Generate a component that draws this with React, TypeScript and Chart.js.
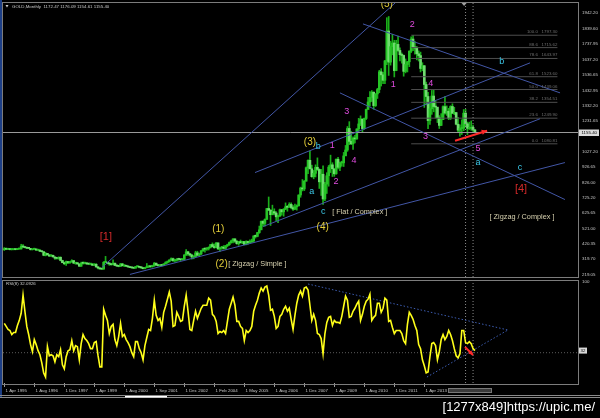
import React, { useEffect, useRef } from "react";
import { Chart, registerables } from "chart.js";
Chart.register(...registerables);

const FONT = "'Liberation Sans', Arial, sans-serif";

// ---- monthly GOLD bars (bar index 0 = 1 Apr 1995) ----
const closes = [
  389,385,387,383,383,384,383,387,387,
  405,400,396,392,391,382,385,387,379,379,371,369,
  345,358,348,340,345,334,326,325,332,311,296,290,
  304,297,301,310,293,296,288,273,293,292,294,288,
  287,287,279,286,268,261,255,254,299,299,292,288,
  283,293,278,274,272,288,276,
  277,273,268,264,262,260,270,271,266,263,257,264,268,272,270,276,
  293,281,277,279,278,288,297,303,314,323,310,312,320,318,316,318,
  347,368,355,347,334,336,361,346,354,375,388,386,391,398,416,403,396,427,388,395,395,391,408,415,429,440,453,438,422,435,428,436,417,
  437,429,433,440,473,470,495,513,569,556,582,654,643,613,633,624,
  599,604,646,632,650,665,662,681,660,650,665,672,743,789,783,834,
  923,972,916,864,886,926,912,830,880,717,815,870,
  927,942,916,883,979,926,955,955,1001,1040,1182,1097,
  1081,1118,1113,1179,1212,1244,1181,1248,1307,1357,1387,1421,
  1333,1410,1439,1556,1536,1500,1628,1825,1620,1722,1746,1564,
  1737,1697,1669,1664,1559,1604,1622,1692,1772,1720,1712,1675,
  1663,1578,1596,1472,1393,1234,1312,1396,1327,1323,1253,1202,
  1240,1326,1284,1296,1250,1327,1282,1287,1210,1171,1182,1184,
  1283,1213,1183,1183,1190,1172,1155.4,
];
const highs = [
  396,393,390,389,388,386,386,389,390,
  418,416,403,397,395,391,387,392,387,385,383,373,
  369,365,355,349,350,346,335,331,335,335,313,300,
  307,306,303,316,311,298,298,290,300,302,300,297,
  293,292,291,291,290,272,263,258,304,338,300,296,
  292,316,294,283,278,292,292,
  282,278,275,270,268,265,272,275,273,268,265,266,291,277,275,280,
  298,294,284,281,283,290,303,308,316,328,327,318,324,326,320,322,
  350,383,372,358,352,342,372,372,360,377,390,392,396,401,417,427,420,429,428,396,404,409,410,419,433,445,456,456,443,437,446,438,436,
  441,439,447,452,474,479,497,538,572,574,586,655,730,646,676,652,
  633,611,650,648,653,691,673,692,691,673,683,678,744,795,845,839,
  928,975,1033,940,905,942,988,916,912,935,827,890,
  938,1006,956,915,981,991,960,966,1024,1070,1195,1227,
  1162,1127,1136,1180,1249,1265,1245,1251,1310,1388,1425,1432,
  1424,1412,1447,1566,1577,1553,1632,1913,1921,1758,1803,1764,
  1764,1791,1714,1680,1667,1641,1625,1695,1787,1796,1755,1723,
  1694,1686,1616,1598,1488,1420,1348,1433,1434,1361,1320,1267,
  1280,1332,1392,1331,1315,1332,1345,1322,1288,1255,1206,1239,
  1307,1308,1224,1224,1232,1205,1176.09,
];
const lows = [
  377,382,383,381,380,381,381,382,385,
  386,396,394,389,389,380,380,384,378,377,370,366,
  342,341,346,337,339,334,318,320,319,308,296,283,
  278,290,292,300,291,286,286,272,273,286,288,285,
  283,282,278,278,267,256,253,252,253,296,288,279,
  280,281,277,272,269,272,275,
  270,270,266,263,260,258,260,267,262,258,255,255,263,264,265,267,
  272,277,273,272,274,276,287,292,300,310,304,300,306,312,310,313,
  317,344,345,340,320,322,335,342,340,350,370,366,378,380,393,399,391,395,382,371,385,386,385,401,410,425,426,430,418,411,425,422,414,
  414,418,425,430,432,459,467,490,514,538,537,582,640,542,612,612,
  573,560,602,610,603,646,636,662,652,642,646,643,670,728,770,772,
  835,883,915,860,850,862,905,786,740,681,705,753,
  801,891,865,866,880,915,904,933,931,1003,1031,1075,
  1075,1044,1087,1111,1164,1201,1157,1176,1241,1313,1330,1360,
  1309,1327,1380,1418,1462,1477,1478,1603,1532,1600,1668,1522,
  1563,1690,1628,1613,1527,1549,1555,1590,1683,1695,1672,1635,
  1627,1555,1563,1321,1338,1180,1208,1275,1292,1251,1221,1182,
  1202,1240,1277,1268,1240,1241,1282,1273,1206,1161,1131,1142,
  1167,1191,1142,1175,1170,1162,1154.61,
];
const firstOpen = 382;
const lastOpen = 1172.47;

// ---- RSI(8) ----
const rsi = [
  59,56,53,52,48,50,50,57,62,69,
  87,71,56,48,38,31,43,38,32,28,
  20,10,6,36,27,28,27,21,28,26,
  33,18,14,26,32,33,42,32,37,36,
  23,39,48,44,42,39,34,34,40,41,
  27,16,16,73,67,62,49,56,58,43,
  37,46,59,46,48,43,40,36,30,26,
  41,41,34,30,23,37,45,53,52,64,
  82,67,62,64,55,70,76,83,90,81,
  56,57,70,66,61,62,76,87,71,53,
  52,62,71,64,69,74,77,77,77,84,
  82,68,66,61,49,51,50,52,49,61,
  73,79,85,77,61,61,56,54,42,52,
  50,52,56,71,77,82,89,94,91,95,
  96,87,72,73,66,54,56,66,68,73,
  76,71,74,63,53,67,79,87,91,86,
  94,95,92,77,62,68,62,49,48,44,
  29,49,60,65,66,57,62,60,60,59,
  66,76,86,82,65,66,71,74,78,81,
  62,68,76,81,83,88,62,65,67,79,
  79,70,74,84,82,61,62,55,49,52,
  52,52,49,42,39,58,70,67,63,57,
  52,38,34,23,17,10,11,26,39,40,
  37,23,31,43,48,43,46,52,48,42,
  34,27,25,29,52,52,40,39,41,39,
  34,32.0926,
];

// ---- axes ----
const dateTickBars = [0,16,32,48,64,80,96,112,128,144,160,176,192,208,224];
const dateTickLabels = ["1 Apr 1995","1 Aug 1996","1 Dec 1997","1 Apr 1999","1 Aug 2000","1 Sep 2001","1 Dec 2002","1 Feb 2004","1 May 2005","1 Aug 2006","1 Dec 2007","1 Apr 2009","1 Aug 2010","1 Dec 2011","1 Apr 2013"];
const priceTicks = [219.05,319.70,420.35,521.00,625.65,725.20,826.00,926.65,1027.20,1231.65,1332.20,1432.95,1536.65,1637.20,1737.95,1839.60,1942.20];
const rsiTicks = [100];
const XMIN = -0.693, XMAX = 305.97;
const YMIN = 201.9, YMAX = 2010;

// ---- annotations (bar index, price) ----
const trendLines: number[][] = [
  [52.1, 265, 208.4, 2010],
  [67.0, 219, 299.0, 957],
  [138.0, 535, 285.7, 1246],
  [133.7, 891, 280.4, 1615],
  [191.3, 1872, 296.4, 1417],
  [179.0, 1417, 299.0, 713],
];
const waveLabels: [string, number, number, string, number][] = [
  ["[1]", 54.2, 463, "#d42a2a", 11],
  ["(1)", 114.1, 515, "#e5cf3a", 10],
  ["(2)", 115.9, 285, "#e5cf3a", 10],
  ["[ Zigzag / Simple ]", 135.0, 285, "#d8d2b0", 7.3],
  ["(3)", 163.0, 1090, "#e5cf3a", 10],
  ["b", 167.5, 1064, "#3cc8e8", 9],
  ["1", 174.9, 1070, "#e04ce0", 9],
  ["a", 164.0, 768, "#3cc8e8", 9],
  ["2", 176.9, 833, "#e04ce0", 9],
  ["4", 186.5, 970, "#e04ce0", 9],
  ["3", 182.6, 1294, "#e04ce0", 9],
  ["c", 170.1, 632, "#3cc8e8", 9],
  ["[ Flat / Complex ]", 189.6, 634, "#d8d2b0", 7.3],
  ["(4)", 169.8, 530, "#e5cf3a", 10],
  ["(5)", 204.0, 2004, "#e5cf3a", 10],
  ["1", 207.5, 1470, "#e04ce0", 9],
  ["2", 217.6, 1865, "#e04ce0", 9],
  ["4", 227.4, 1481, "#e04ce0", 9],
  ["3", 224.7, 1130, "#e04ce0", 9],
  ["5", 252.6, 1049, "#e04ce0", 9],
  ["a", 252.6, 956, "#3cc8e8", 9],
  ["b", 265.3, 1624, "#3cc8e8", 9],
  ["c", 275.0, 924, "#3cc8e8", 9],
  ["[4]", 275.6, 785, "#d42a2a", 11],
  ["[ Zigzag / Complex ]", 276.1, 601, "#d8d2b0", 7.3],
];
const fibLevels = [100.0, 88.6, 78.6, 61.8, 50.0, 38.2, 23.6, 0.0];
const fibPrices = [1797.30, 1715.62, 1643.97, 1523.60, 1439.06, 1354.51, 1249.90, 1080.81];
const fibFrom = 217, fibTo = 295;
const vLines = [246, 250];
const bidPrice = 1155.40;
const priceArrow = [240.4, 1101, 257.5, 1167];
const rsiTriangle: number[][] = [
  [162, 98, 268.6, 52.5],
  [225.4, 5.9, 268.6, 52.5],
];
const rsiArrow = [245.7, 35.6, 250, 27.7];
const rsiLevel = 30;
const headerText = "GOLD,Monthly  1172.47 1176.09 1154.61 1155.40";
const rsiText = "RSI(8) 32.0926";
const watermark = "[1277x849]https://upic.me/";

const LINE_BLUE = "#4256a6";

function seg(pts: { x: number; y: number }[], color: string, width = 1, dash: number[] = [], order = 1) {
  return {
    type: "line" as const,
    data: pts,
    borderColor: color,
    borderWidth: width,
    borderDash: dash,
    pointRadius: 0,
    fill: false,
    tension: 0,
    order,
  };
}

function arrowHead(ctx: CanvasRenderingContext2D, x1: number, y1: number, x2: number, y2: number, color: string, size: number) {
  const ang = Math.atan2(y2 - y1, x2 - x1);
  ctx.fillStyle = color;
  ctx.beginPath();
  ctx.moveTo(x2, y2);
  ctx.lineTo(x2 - size * Math.cos(ang - 0.45), y2 - size * Math.sin(ang - 0.45));
  ctx.lineTo(x2 - size * Math.cos(ang + 0.45), y2 - size * Math.sin(ang + 0.45));
  ctx.closePath();
  ctx.fill();
}

const zeroPad = (s: any) => {
  s.paddingTop = 0; s.paddingBottom = 0; s.paddingLeft = 0; s.paddingRight = 0;
};

export default function App() {
  const mainRef = useRef<HTMLCanvasElement>(null);
  const rsiRef = useRef<HTMLCanvasElement>(null);

  useEffect(() => {
    document.body.style.margin = "0";
    document.body.style.background = "#000";
    const opens = closes.map((c, i) => (i === 0 ? firstOpen : i === closes.length - 1 ? lastOpen : closes[i - 1]));

    const mainDeco = {
      id: "mainDeco",
      afterDraw(chart: any) {
        const { ctx, chartArea: a, scales } = chart;
        const xs = scales.x, ys = scales.y;
        ctx.save();
        ctx.fillStyle = "#1d3f86";
        ctx.fillRect(0, 0, 2, 280);
        ctx.strokeStyle = "#7c7c7c";
        ctx.lineWidth = 1;
        ctx.strokeRect(a.left - 0.5, a.top - 0.5, a.right - a.left + 1, a.bottom - a.top + 1);
        ctx.save();
        ctx.beginPath();
        ctx.rect(a.left, a.top, a.right - a.left, a.bottom - a.top);
        ctx.clip();
        ctx.textAlign = "center";
        ctx.textBaseline = "middle";
        waveLabels.forEach(([t, i, p, c, s]) => {
          ctx.font = `${s}px ${FONT}`;
          ctx.fillStyle = c;
          ctx.fillText(t, xs.getPixelForValue(i), ys.getPixelForValue(p));
        });
        ctx.font = `4.4px ${FONT}`;
        ctx.fillStyle = "#6e6e6e";
        ctx.textAlign = "right";
        ctx.textBaseline = "bottom";
        fibLevels.forEach((lv, k) => {
          ctx.fillText(`${lv.toFixed(1)}   ${fibPrices[k].toFixed(2)}`, xs.getPixelForValue(fibTo), ys.getPixelForValue(fibPrices[k]) - 1);
        });
        arrowHead(ctx, xs.getPixelForValue(priceArrow[0]), ys.getPixelForValue(priceArrow[1]), xs.getPixelForValue(priceArrow[2]), ys.getPixelForValue(priceArrow[3]), "#ff2a2a", 6);
        ctx.restore();
        // chart-shift marker
        const sx = xs.getPixelForValue(vLines[1]) - 9;
        ctx.fillStyle = "#a0a0a0";
        ctx.beginPath();
        ctx.moveTo(sx - 2.5, a.top);
        ctx.lineTo(sx + 2.5, a.top);
        ctx.lineTo(sx, a.top + 3);
        ctx.closePath();
        ctx.fill();
        // bid price box
        const py = ys.getPixelForValue(bidPrice);
        ctx.fillStyle = "#dcdcdc";
        ctx.fillRect(a.right + 1, py - 3, 20, 6.5);
        ctx.fillStyle = "#000";
        ctx.font = `4.4px ${FONT}`;
        ctx.textAlign = "left";
        ctx.textBaseline = "middle";
        ctx.fillText(bidPrice.toFixed(2), a.right + 3.5, py + 0.3);
        // header
        ctx.fillStyle = "#d0d0d0";
        ctx.beginPath();
        ctx.moveTo(5.5, 5);
        ctx.lineTo(8.5, 5);
        ctx.lineTo(7, 7.5);
        ctx.closePath();
        ctx.fill();
        ctx.font = `4.4px ${FONT}`;
        ctx.fillStyle = "#c8c8c8";
        ctx.fillText(headerText, 12, 7);
        ctx.restore();
      },
    };

    const bodyColors = closes.map((c, i) => (c >= opens[i] ? "#26c426" : "#6fdc6f"));

    const main = new Chart(mainRef.current!, {
      type: "bar",
      data: {
        datasets: [
          ...trendLines.map(([i1, p1, i2, p2]) => seg([{ x: i1, y: p1 }, { x: i2, y: p2 }], LINE_BLUE)),
          ...fibPrices.map((p) => seg([{ x: fibFrom, y: p }, { x: fibTo, y: p }], "#4e4e4e", 1, [], 3)),
          seg([{ x: XMIN, y: bidPrice }, { x: XMAX, y: bidPrice }], "#9a9a9a", 1, [], 2),
          ...vLines.map((v) => seg([{ x: v, y: YMIN }, { x: v, y: YMAX }], "#8a8a8a", 1, [1, 2], 2)),
          seg([{ x: priceArrow[0], y: priceArrow[1] }, { x: priceArrow[2], y: priceArrow[3] }], "#ff2a2a", 2, [], 0),
          {
            type: "bar" as const,
            data: closes.map((c, i) => ({ x: i, y: [lows[i], highs[i]] })),
            backgroundColor: "#1aae1a",
            barThickness: 1,
            order: 10,
          },
          {
            type: "bar" as const,
            data: closes.map((c, i) => ({ x: i, y: [opens[i], c] })),
            backgroundColor: bodyColors,
            barThickness: 2,
            minBarLength: 1,
            order: 9,
          },
        ] as any,
      },
      options: {
        animation: false,
        responsive: false,
        maintainAspectRatio: false,
        events: [],
        layout: { padding: { left: 3, top: 3, right: 0, bottom: 3 } },
        datasets: { bar: { grouped: false } },
        plugins: { legend: { display: false }, tooltip: { enabled: false } },
        scales: {
          x: { type: "linear", min: XMIN, max: XMAX, display: false, offset: false, grid: { offset: false } },
          y: {
            position: "right",
            min: YMIN,
            max: YMAX,
            afterBuildTicks: (s: any) => { s.ticks = priceTicks.map((v) => ({ value: v })); },
            afterFit: (s: any) => { s.width = 22; zeroPad(s); },
            grid: { display: false, drawTicks: false },
            border: { display: false },
            ticks: {
              autoSkip: false,
              padding: 4,
              color: "#c8c8c8",
              font: { family: FONT, size: 4.4 },
              callback: (v: any) => Number(v).toFixed(2),
            },
          },
        },
      } as any,
      plugins: [mainDeco],
    });

    const rsiDeco = {
      id: "rsiDeco",
      afterDraw(chart: any) {
        const { ctx, chartArea: a, scales } = chart;
        const xs = scales.x, ys = scales.y;
        ctx.save();
        ctx.fillStyle = "#1d3f86";
        ctx.fillRect(0, 0, 2, 118);
        ctx.strokeStyle = "#7c7c7c";
        ctx.lineWidth = 1;
        ctx.strokeRect(a.left - 0.5, a.top - 1.5, a.right - a.left + 1, a.bottom - a.top + 3);
        ctx.font = `4.4px ${FONT}`;
        ctx.fillStyle = "#c8c8c8";
        ctx.textAlign = "left";
        ctx.textBaseline = "middle";
        ctx.fillText(rsiText, 6, a.top + 2);
        arrowHead(ctx, xs.getPixelForValue(rsiArrow[0]), ys.getPixelForValue(rsiArrow[1]), xs.getPixelForValue(rsiArrow[2]), ys.getPixelForValue(rsiArrow[3]), "#ff2a2a", 5);
        const vy = ys.getPixelForValue(rsi[rsi.length - 1]);
        ctx.fillStyle = "#d8d8d8";
        ctx.fillRect(a.right + 1, vy - 3, 8, 6);
        ctx.fillStyle = "#000";
        ctx.fillText(String(Math.round(rsi[rsi.length - 1])), a.right + 2.5, vy + 0.3);
        // bottom frame
        ctx.fillStyle = "#8a8a8a";
        ctx.fillRect(0, 116, 600, 1);
        ctx.fillRect(0, 118, 600, 1);
        ctx.fillStyle = "#ffffff";
        ctx.fillRect(125, 117, 42, 1.5);
        ctx.fillStyle = "#3a3a3a";
        ctx.fillRect(448, 109, 44, 5);
        ctx.strokeStyle = "#777";
        ctx.strokeRect(448.5, 109.5, 43, 4);
        // watermark
        ctx.fillStyle = "#ffffff";
        ctx.font = `13px ${FONT}`;
        ctx.textAlign = "right";
        ctx.textBaseline = "alphabetic";
        ctx.fillText(watermark, 595, 132);
        ctx.restore();
      },
    };

    const rsiChart = new Chart(rsiRef.current!, {
      type: "line",
      data: {
        datasets: [
          seg([{ x: XMIN, y: rsiLevel }, { x: XMAX, y: rsiLevel }], "#5a5a5a", 1, [1, 2], 5),
          ...vLines.map((v) => seg([{ x: v, y: 0 }, { x: v, y: 100 }], "#8a8a8a", 1, [1, 2], 4)),
          ...rsiTriangle.map(([i1, v1, i2, v2]) => seg([{ x: i1, y: v1 }, { x: i2, y: v2 }], "#3c5cb0", 1, [1.5, 2], 3)),
          seg(rsi.map((v, i) => ({ x: i, y: v })), "#ffff1a", 1.6, [], 1),
          seg([{ x: rsiArrow[0], y: rsiArrow[1] }, { x: rsiArrow[2], y: rsiArrow[3] }], "#ff2a2a", 2, [], 0),
        ] as any,
      },
      options: {
        animation: false,
        responsive: false,
        maintainAspectRatio: false,
        events: [],
        layout: { padding: { left: 3, top: 3, right: 0, bottom: 25 } },
        plugins: { legend: { display: false }, tooltip: { enabled: false } },
        scales: {
          x: {
            type: "linear",
            min: XMIN,
            max: XMAX,
            afterBuildTicks: (s: any) => { s.ticks = dateTickBars.map((v) => ({ value: v })); },
            afterFit: (s: any) => { s.height = 10; zeroPad(s); },
            grid: { display: true, drawOnChartArea: false, drawTicks: true, tickLength: 4, color: "#9a9a9a" },
            border: { display: false },
            ticks: {
              autoSkip: false,
              maxRotation: 0,
              align: "start",
              padding: 1.5,
              color: "#c8c8c8",
              font: { family: FONT, size: 4.4 },
              callback: (_v: any, idx: number) => " " + dateTickLabels[idx],
            },
          },
          y: {
            position: "right",
            min: 0,
            max: 100,
            afterBuildTicks: (s: any) => { s.ticks = rsiTicks.map((v) => ({ value: v })); },
            afterFit: (s: any) => { s.width = 22; zeroPad(s); },
            grid: { display: false, drawTicks: false },
            border: { display: false },
            ticks: { padding: 4, color: "#c8c8c8", font: { family: FONT, size: 4.4 } },
          },
        },
      } as any,
      plugins: [rsiDeco],
    });

    return () => {
      main.destroy();
      rsiChart.destroy();
    };
  }, []);

  return (
    <div style={{ position: "relative", width: 600, height: 418, background: "#000", overflow: "hidden" }}>
      <canvas ref={mainRef} width={600} height={280} style={{ position: "absolute", left: 0, top: 0 }} />
      <canvas ref={rsiRef} width={600} height={139} style={{ position: "absolute", left: 0, top: 279 }} />
    </div>
  );
}
